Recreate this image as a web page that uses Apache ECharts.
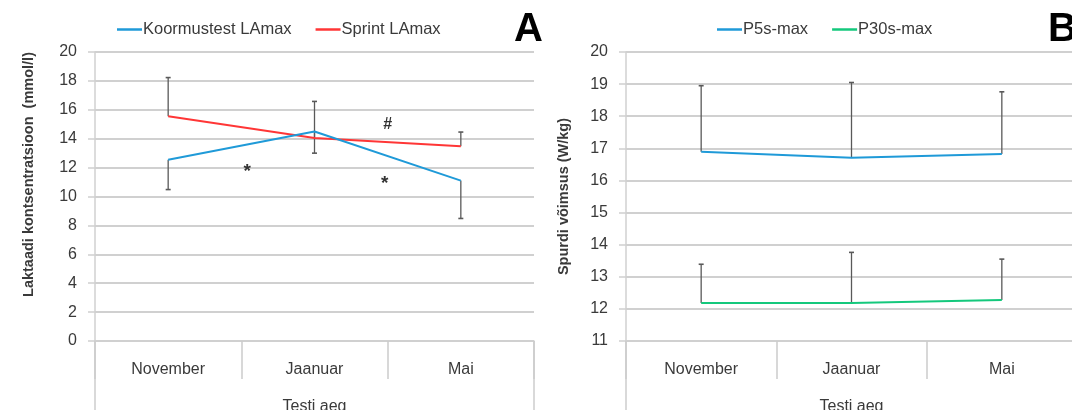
<!DOCTYPE html>
<html>
<head>
<meta charset="utf-8">
<script src="https://cdn.jsdelivr.net/npm/echarts@6/dist/echarts.min.js"></script>
<style>
  html, body { margin: 0; padding: 0; background: #ffffff; }
  #chart { width: 1072px; height: 410px; }
</style>
</head>
<body>
<div id="chart"></div>
<script>
// Test periods
const categories = ['November', 'Jaanuar', 'Mai'];

// Panel A: maximal blood lactate (mmol/l), mean and SD
const koormusMean = [12.55, 14.5, 11.1];
const koormusSD = [2.07, 1.5, 2.62];
const sprintMean = [15.55, 14.05, 13.47];
const sprintSD = [2.68, 2.53, 0.99];

// Panel B: sprint power (W/kg), mean and SD
const p5Mean = [16.89, 16.71, 16.82];
const p5SD = [2.06, 2.34, 1.94];
const p30Mean = [12.18, 12.18, 12.28];
const p30SD = [1.21, 1.58, 1.27];

// Axis ranges
const lactateAxis = { min: 0, max: 20, step: 2 };
const powerAxis = { min: 11, max: 20, step: 1 };

// Significance marks in panel A: [category position, value, symbol]
const markPos = [0.54, 1.48, 1.5];
const markVal = [11.7, 10.9, 15.0];
const markText = ['*', '*', '#'];

const FONT = 'Liberation Sans, Arial, sans-serif';
const TEXT = '#3a3a3a';
const GRID = '#d0d0d0';
const BAR = '#595959';

const chart = echarts.init(document.getElementById('chart'), null, { renderer: 'canvas' });

// Error bar: vertical line from mean to mean +/- SD with a short cap
function errorBar(params, api) {
  const x = api.value(0);
  const p1 = api.coord([x, api.value(1)]);
  const p2 = api.coord([x, api.value(2)]);
  return {
    type: 'group',
    children: [
      { type: 'line', shape: { x1: p1[0], y1: p1[1], x2: p2[0], y2: p2[1] },
        style: { stroke: BAR, lineWidth: 1.3 } },
      { type: 'line', shape: { x1: p2[0] - 2.5, y1: p2[1], x2: p2[0] + 2.5, y2: p2[1] },
        style: { stroke: BAR, lineWidth: 1.6 } }
    ]
  };
}

function bars(mean, sd, dir) {
  return mean.map((m, i) => [i, m, +(m + dir * sd[i]).toFixed(2)]);
}

function catAxis(gridIndex) {
  return {
    type: 'category', gridIndex, data: categories, boundaryGap: true,
    axisLine: { show: true, onZero: false, lineStyle: { color: GRID, width: 1.5 } },
    axisTick: { show: true, interval: 0, length: 38, lineStyle: { color: '#cccccc', width: 1.5 } },
    axisLabel: { color: TEXT, fontFamily: FONT, fontSize: 16, margin: 21, interval: 0 },
    name: 'Testi aeg', nameLocation: 'middle', nameGap: 58,
    nameTextStyle: { color: TEXT, fontFamily: FONT, fontSize: 16 }
  };
}

function valAxis(gridIndex, rng, name, gap, pad) {
  return {
    type: 'value', gridIndex, min: rng.min, max: rng.max, interval: rng.step,
    axisLine: { show: true, onZero: false, lineStyle: { color: GRID, width: 1.5 } },
    axisTick: { show: true, length: 7, lineStyle: { color: GRID, width: 1.5 } },
    axisLabel: { color: TEXT, fontFamily: FONT, fontSize: 16, margin: 18 },
    splitLine: { show: true, lineStyle: { color: GRID, width: 1.8 } },
    name, nameLocation: 'middle', nameGap: gap,
    nameTextStyle: { color: TEXT, fontFamily: FONT, fontSize: 14.5, fontWeight: 'bold', padding: pad }
  };
}

const lineStyleFor = (color) => ({ color, width: 2 });

const legendBase = {
  top: 16, itemWidth: 25, itemHeight: 2.5, itemGap: 24, icon: 'rect',
  textStyle: { color: TEXT, fontFamily: FONT, fontSize: 16.5, padding: [0, 0, 0, -4] }
};

const option = {
  animation: false,
  grid: [
    { left: 95, right: 538, top: 52, bottom: 69, outerBoundsMode: 'none' },
    { left: 626, right: -5, top: 52, bottom: 69, outerBoundsMode: 'none' }
  ],
  xAxis: [
    catAxis(0),
    catAxis(1),
    { type: 'value', gridIndex: 0, min: -0.5, max: 2.5, show: false }
  ],
  yAxis: [
    valAxis(0, lactateAxis, 'Laktaadi kontsentratsioon  (mmol/l)', 59, [0, 0, 0, 44]),
    valAxis(1, powerAxis, 'Spurdi võimsus (W/kg)', 55, 0)
  ],
  legend: [
    Object.assign({}, legendBase, { left: 112, data: ['Koormustest LAmax', 'Sprint LAmax'] }),
    Object.assign({}, legendBase, { left: 712, data: ['P5s-max', 'P30s-max'] })
  ],
  graphic: [
    // outer frame of the category label area
    { type: 'line', shape: { x1: 95, y1: 341, x2: 95, y2: 410 }, style: { stroke: '#cccccc', lineWidth: 1.5 } },
    { type: 'line', shape: { x1: 534, y1: 341, x2: 534, y2: 410 }, style: { stroke: '#cccccc', lineWidth: 1.5 } },
    { type: 'line', shape: { x1: 626, y1: 341, x2: 626, y2: 410 }, style: { stroke: '#cccccc', lineWidth: 1.5 } },
    // panel letters
    { type: 'text', left: 514, top: 10, style: { text: 'A', font: 'bold 40px ' + FONT, fill: '#000000' } },
    { type: 'text', left: 1048, top: 10, style: { text: 'B', font: 'bold 40px ' + FONT, fill: '#000000' } }
  ],
  series: [
    { type: 'custom', name: 'Koormustest SD', xAxisIndex: 0, yAxisIndex: 0, z: 1,
      renderItem: errorBar, data: bars(koormusMean, koormusSD, -1) },
    { type: 'custom', name: 'Sprint SD', xAxisIndex: 0, yAxisIndex: 0, z: 1,
      renderItem: errorBar, data: bars(sprintMean, sprintSD, 1) },
    { type: 'line', name: 'Koormustest LAmax', xAxisIndex: 0, yAxisIndex: 0, z: 3,
      data: koormusMean, symbol: 'none', color: '#1f9ad8', lineStyle: lineStyleFor('#1f9ad8') },
    { type: 'line', name: 'Sprint LAmax', xAxisIndex: 0, yAxisIndex: 0, z: 2,
      data: sprintMean, symbol: 'none', color: '#ff3636', lineStyle: lineStyleFor('#ff3636') },
    { type: 'custom', name: 'marks', xAxisIndex: 2, yAxisIndex: 0, z: 4,
      data: markPos.map((p, i) => [p, markVal[i], i]),
      renderItem: (params, api) => {
        const pt = api.coord([api.value(0), api.value(1)]);
        const t = markText[api.value(2)];
        return { type: 'text', x: pt[0], y: pt[1],
          style: { text: t, font: (t === '#' ? 'bold 16px ' : 'bold 19px ') + FONT, fill: '#333333',
            align: 'center', verticalAlign: 'middle' } };
      } },
    { type: 'custom', name: 'P5s SD', xAxisIndex: 1, yAxisIndex: 1, z: 1,
      renderItem: errorBar, data: bars(p5Mean, p5SD, 1) },
    { type: 'custom', name: 'P30s SD', xAxisIndex: 1, yAxisIndex: 1, z: 1,
      renderItem: errorBar, data: bars(p30Mean, p30SD, 1) },
    { type: 'line', name: 'P5s-max', xAxisIndex: 1, yAxisIndex: 1, z: 3,
      data: p5Mean, symbol: 'none', color: '#1f9ad8', lineStyle: lineStyleFor('#1f9ad8') },
    { type: 'line', name: 'P30s-max', xAxisIndex: 1, yAxisIndex: 1, z: 3,
      data: p30Mean, symbol: 'none', color: '#14c87c', lineStyle: lineStyleFor('#14c87c') }
  ]
};

chart.setOption(option);
</script>
</body>
</html>
